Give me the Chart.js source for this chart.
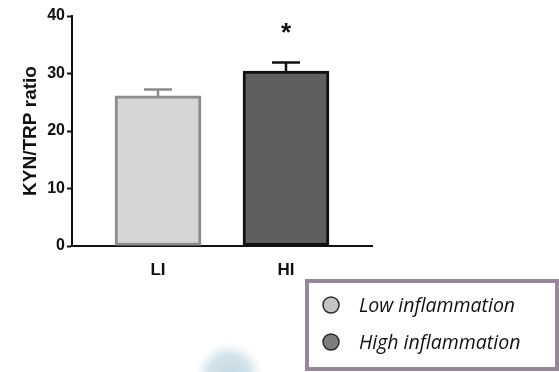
<!DOCTYPE html>
<html>
<head>
<meta charset="utf-8">
<script src="https://cdn.jsdelivr.net/npm/chart.js@4/dist/chart.umd.min.js"></script>
<style>
  html, body { margin: 0; padding: 0; background: #fff; }
  #chart { display: block; }
</style>
</head>
<body>
<canvas id="chart" width="559" height="372"></canvas>
<script>
//.. data
const groups = ['LI', 'HI'];
const ratioMean = [26.1, 30.4];
const ratioSem = [1.1, 1.5];
const yTicks = [0, 10, 20, 30, 40];
const legendNames = ['Low inflammation', 'High inflammation'];
const starred = [false, true];

const barFill = ['#d6d6d6', '#5f5f5f'];
const barEdge = ['#8c8c8c', '#111111'];
const dotFill = ['#c4c4c4', '#7c7c7c'];

//.. error bars + asterisk
const errorBars = {
    id: 'errorBars',
    afterDatasetsDraw(chart) {
        const ctx = chart.ctx;
        const y = chart.scales.y;
        chart.getDatasetMeta(0).data.forEach(function (bar, i) {
            const top = y.getPixelForValue(ratioMean[i] + ratioSem[i]);
            ctx.save();
            ctx.strokeStyle = barEdge[i];
            ctx.lineWidth = 2.5;
            ctx.beginPath();
            ctx.moveTo(bar.x, bar.y);
            ctx.lineTo(bar.x, top);
            ctx.moveTo(bar.x - 14, top);
            ctx.lineTo(bar.x + 14, top);
            ctx.stroke();
            if (starred[i]) {
                ctx.fillStyle = '#111';
                ctx.font = 'bold 26px "Liberation Sans"';
                ctx.textAlign = 'center';
                ctx.textBaseline = 'middle';
                ctx.fillText('*', bar.x, 34);
            }
            ctx.restore();
        });
    }
};

//.. legend box in the lower right, plus the faint blue smudge
const boxLegend = {
    id: 'boxLegend',
    afterDraw(chart) {
        const ctx = chart.ctx;
        ctx.save();
        const g = ctx.createRadialGradient(229, 376, 2, 229, 376, 34);
        g.addColorStop(0, 'rgba(196,216,226,1)');
        g.addColorStop(0.6, 'rgba(202,220,229,0.8)');
        g.addColorStop(1, 'rgba(225,235,240,0)');
        ctx.fillStyle = g;
        ctx.fillRect(190, 335, 80, 37);

        ctx.strokeStyle = '#968699';
        ctx.lineWidth = 4;
        ctx.fillStyle = '#fff';
        ctx.fillRect(307, 281, 250, 88);
        ctx.strokeRect(307, 281, 250, 88);

        legendNames.forEach(function (name, i) {
            const cy = 305 + i * 37;
            ctx.beginPath();
            ctx.arc(331, cy, 8, 0, Math.PI * 2);
            ctx.fillStyle = dotFill[i];
            ctx.fill();
            ctx.lineWidth = 1.5;
            ctx.strokeStyle = '#2a2a2a';
            ctx.stroke();
            ctx.fillStyle = '#111';
            ctx.font = 'italic 19.5px "Open Sans"';
            ctx.textAlign = 'left';
            ctx.textBaseline = 'middle';
            ctx.fillText(name, 359, cy + 1);
        });
        ctx.restore();
    }
};

const ctx = document.getElementById('chart').getContext('2d');
new Chart(ctx, {
    type: 'bar',
    data: {
        labels: groups,
        datasets: [{
            data: groups.map(function (g, i) { return {x: i + 1, y: ratioMean[i]}; }),
            backgroundColor: barFill,
            borderColor: barEdge,
            borderWidth: 3,
            borderSkipped: false,
            barThickness: 86
        }]
    },
    options: {
        responsive: false,
        animation: false,
        layout: {padding: {left: 0, right: 187, top: 16, bottom: 86}},
        plugins: {legend: {display: false}, tooltip: {enabled: false}},
        scales: {
            x: {
                type: 'linear',
                offset: false,
                min: 0.328,
                max: 2.672,
                afterBuildTicks(scale) {
                    scale.ticks = groups.map(function (g, i) { return {value: i + 1}; });
                },
                afterFit(scale) { scale.height = 40; },
                ticks: {
                    callback: function (v) { return groups[v - 1] || ''; },
                    color: '#111',
                    font: {family: 'Liberation Sans', weight: 'bold', size: 17},
                    padding: 14,
                    maxRotation: 0
                },
                grid: {drawOnChartArea: false, drawTicks: false},
                border: {color: '#111', width: 2}
            },
            y: {
                min: 0,
                max: 40,
                afterBuildTicks(scale) {
                    scale.ticks = yTicks.map(function (v) { return {value: v}; });
                },
                afterFit(scale) { scale.width = 72; },
                ticks: {
                    color: '#111',
                    font: {family: 'Liberation Sans', weight: 'bold', size: 16},
                    padding: 2
                },
                grid: {drawOnChartArea: false, tickLength: 5, tickWidth: 2, color: '#111'},
                border: {color: '#111', width: 2},
                title: {
                    display: true,
                    text: 'KYN/TRP ratio',
                    color: '#111',
                    font: {family: 'Liberation Sans', weight: 'bold', size: 19},
                    padding: {top: 19, bottom: 0}
                }
            }
        }
    },
    plugins: [errorBars, boxLegend]
});
</script>
</body>
</html>
